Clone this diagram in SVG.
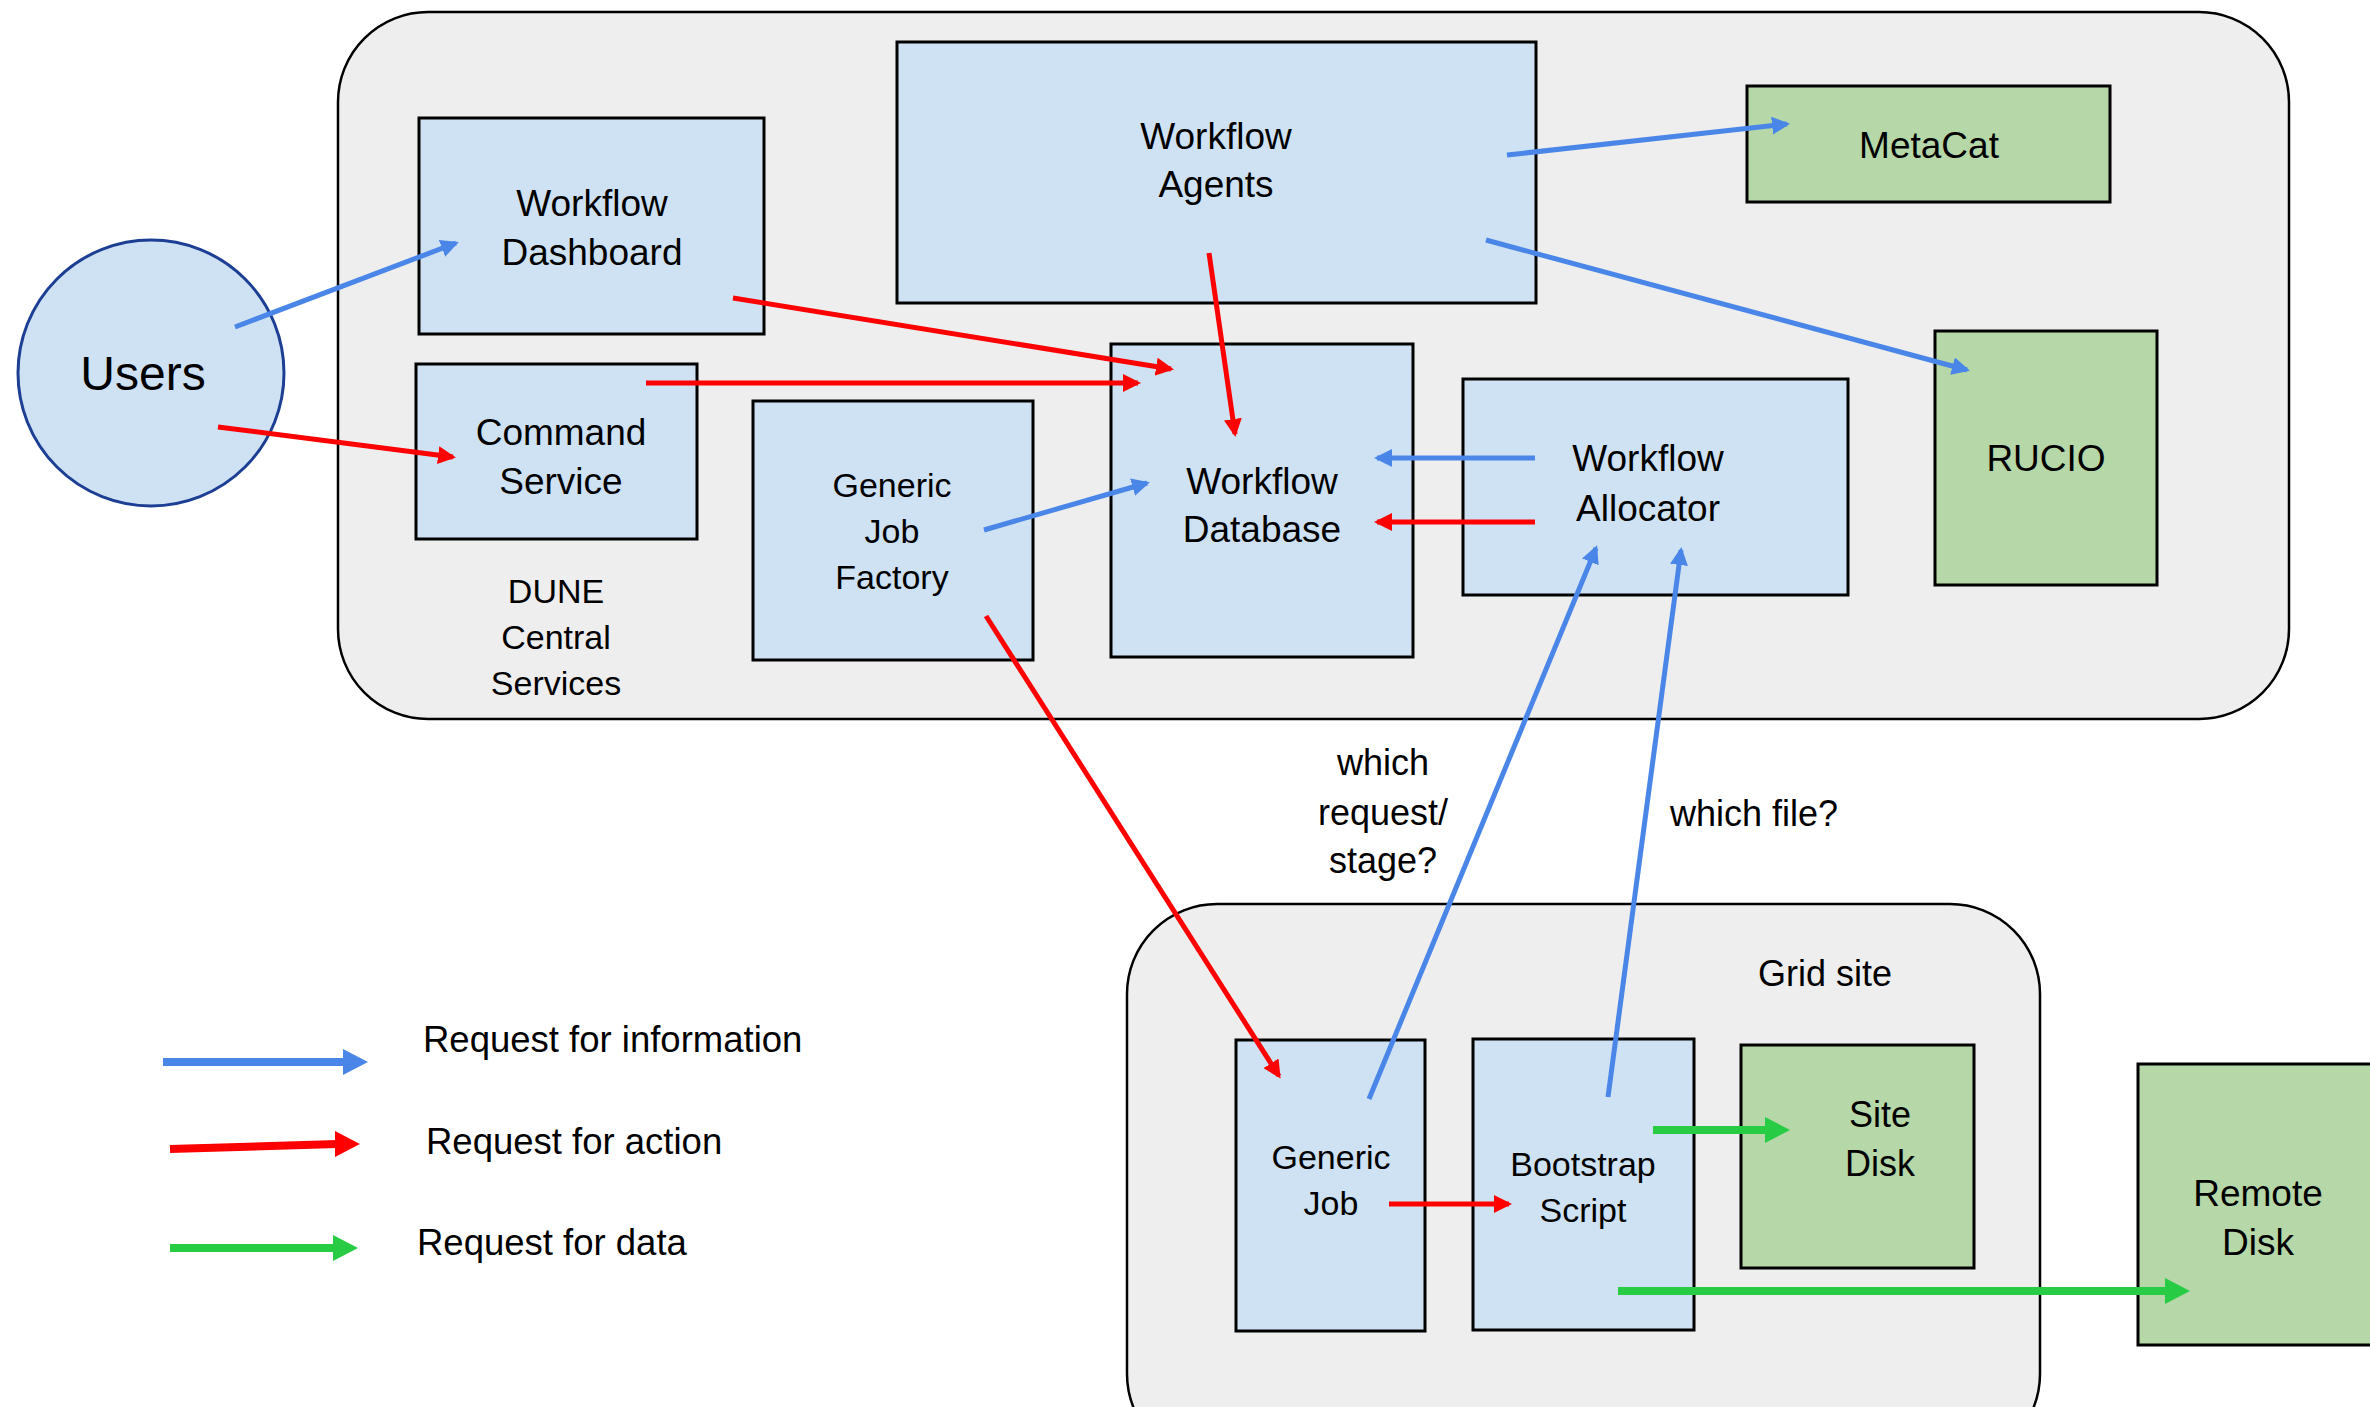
<svg xmlns="http://www.w3.org/2000/svg" width="2370" height="1407" viewBox="0 0 2370 1407">
<style>
text{font-family:"Liberation Sans",Arial,sans-serif;fill:#000;text-anchor:middle}
.t37{font-size:37px}.t34{font-size:34px}.t36{font-size:36px}
.lg{font-size:36.5px;text-anchor:start}
.cont{fill:#eeeeee;stroke:#000;stroke-width:2.5}
.blue{fill:#cfe2f3;stroke:#000;stroke-width:3}
.green{fill:#b6d7a8;stroke:#000;stroke-width:3}
.cb{stroke:#4a86e8;stroke-width:5;fill:none;marker-end:url(#ab)}
.cr{stroke:#ff0000;stroke-width:5;fill:none;marker-end:url(#ar)}
.cg{stroke:#27cc44;stroke-width:8;fill:none;marker-end:url(#ag)}
</style>
<defs>
<marker id="ab" markerUnits="userSpaceOnUse" markerWidth="18" markerHeight="18" refX="15" refY="9" orient="auto"><path d="M0,0L18,9L0,18z" fill="#4a86e8"/></marker>
<marker id="ar" markerUnits="userSpaceOnUse" markerWidth="18" markerHeight="18" refX="15" refY="9" orient="auto"><path d="M0,0L18,9L0,18z" fill="#ff0000"/></marker>
<marker id="ag" markerUnits="userSpaceOnUse" markerWidth="25" markerHeight="26" refX="17" refY="13" orient="auto"><path d="M0,0L25,13L0,26z" fill="#27cc44"/></marker>
</defs>
<rect width="2370" height="1407" fill="#fff"/>
<g id="dune-central">
<rect class="cont" x="338" y="12" width="1951" height="707" rx="90" ry="90"/>
<text class="t34" x="556" y="603">DUNE</text>
<text class="t34" x="556" y="649">Central</text>
<text class="t34" x="556" y="695">Services</text>
</g>
<g id="grid-site">
<rect class="cont" x="1127" y="904" width="913" height="560" rx="90" ry="90"/>
<text class="t36" x="1825" y="986">Grid site</text>
</g>
<g id="users">
<circle cx="151" cy="373" r="133" fill="#cfe2f3" stroke="#1c3f94" stroke-width="3"/>
<text x="143" y="390" style="font-size:48px">Users</text>
</g>
<g id="workflow-dashboard">
<rect class="blue" x="419" y="118" width="345" height="216"/>
<text class="t37" x="592" y="216">Workflow</text>
<text class="t37" x="592" y="265">Dashboard</text>
</g>
<g id="command-service">
<rect class="blue" x="416" y="364" width="281" height="175"/>
<text class="t37" x="561" y="445">Command</text>
<text class="t37" x="561" y="494">Service</text>
</g>
<g id="workflow-agents">
<rect class="blue" x="897" y="42" width="639" height="261"/>
<text class="t37" x="1216" y="149">Workflow</text>
<text class="t37" x="1216" y="197">Agents</text>
</g>
<g id="generic-job-factory">
<rect class="blue" x="753" y="401" width="280" height="259"/>
<text class="t34" x="892" y="497">Generic</text>
<text class="t34" x="892" y="543">Job</text>
<text class="t34" x="892" y="589">Factory</text>
</g>
<g id="workflow-database">
<rect class="blue" x="1111" y="344" width="302" height="313"/>
<text class="t37" x="1262" y="494">Workflow</text>
<text class="t37" x="1262" y="542">Database</text>
</g>
<g id="workflow-allocator">
<rect class="blue" x="1463" y="379" width="385" height="216"/>
<text class="t37" x="1648" y="471">Workflow</text>
<text class="t37" x="1648" y="521">Allocator</text>
</g>
<g id="metacat">
<rect class="green" x="1747" y="86" width="363" height="116"/>
<text class="t37" x="1929" y="158">MetaCat</text>
</g>
<g id="rucio">
<rect class="green" x="1935" y="331" width="222" height="254"/>
<text class="t37" x="2046" y="471">RUCIO</text>
</g>
<g id="generic-job">
<rect class="blue" x="1236" y="1040" width="189" height="291"/>
<text class="t34" x="1331" y="1169">Generic</text>
<text class="t34" x="1331" y="1215">Job</text>
</g>
<g id="bootstrap-script">
<rect class="blue" x="1473" y="1039" width="221" height="291"/>
<text class="t34" x="1583" y="1176">Bootstrap</text>
<text class="t34" x="1583" y="1222">Script</text>
</g>
<g id="site-disk">
<rect class="green" x="1741" y="1045" width="233" height="223"/>
<text class="t36" x="1880" y="1127">Site</text>
<text class="t36" x="1880" y="1176">Disk</text>
</g>
<g id="remote-disk">
<rect class="green" x="2138" y="1064" width="250" height="281"/>
<text class="t37" x="2258" y="1206">Remote</text>
<text class="t37" x="2258" y="1255">Disk</text>
</g>
<g id="labels">
<text class="t36" x="1383" y="775">which</text>
<text class="t36" x="1383" y="825">request/</text>
<text class="t36" x="1383" y="873">stage?</text>
<text class="t36" x="1754" y="826">which file?</text>
</g>
<g id="connectors">
<line class="cb" x1="235" y1="327" x2="456" y2="243"/>
<line class="cr" x1="218" y1="427" x2="453" y2="457"/>
<line class="cr" x1="733" y1="298" x2="1171" y2="369"/>
<line class="cr" x1="646" y1="383" x2="1138" y2="383"/>
<line class="cr" x1="1209" y1="253" x2="1235" y2="434"/>
<line class="cb" x1="984" y1="530" x2="1147" y2="483"/>
<line class="cb" x1="1535" y1="458" x2="1377" y2="458"/>
<line class="cr" x1="1535" y1="522" x2="1377" y2="522"/>
<line class="cb" x1="1507" y1="155" x2="1787" y2="124"/>
<line class="cb" x1="1486" y1="240" x2="1967" y2="370"/>
<line class="cr" x1="986" y1="616" x2="1279" y2="1076"/>
<line class="cb" x1="1369" y1="1099" x2="1596" y2="548"/>
<line class="cb" x1="1608" y1="1097" x2="1681" y2="550"/>
<line class="cr" x1="1389" y1="1204" x2="1509" y2="1204"/>
<line class="cg" x1="1653" y1="1130" x2="1782" y2="1130"/>
<line class="cg" x1="1618" y1="1291" x2="2182" y2="1291"/>
</g>
<g id="legend">
<line x1="163" y1="1062" x2="345" y2="1062" stroke="#4a86e8" stroke-width="8"/>
<path d="M343,1049L368,1062L343,1075z" fill="#4a86e8"/>
<text class="lg" x="423" y="1052">Request for information</text>
<line x1="170" y1="1149" x2="337" y2="1144" stroke="#ff0000" stroke-width="8"/>
<path d="M335,1131L360,1144L335,1157z" fill="#ff0000"/>
<text class="lg" x="426" y="1154">Request for action</text>
<line x1="170" y1="1248" x2="335" y2="1248" stroke="#27cc44" stroke-width="8"/>
<path d="M333,1235L358,1248L333,1261z" fill="#27cc44"/>
<text class="lg" x="417" y="1255">Request for data</text>
</g>
</svg>
